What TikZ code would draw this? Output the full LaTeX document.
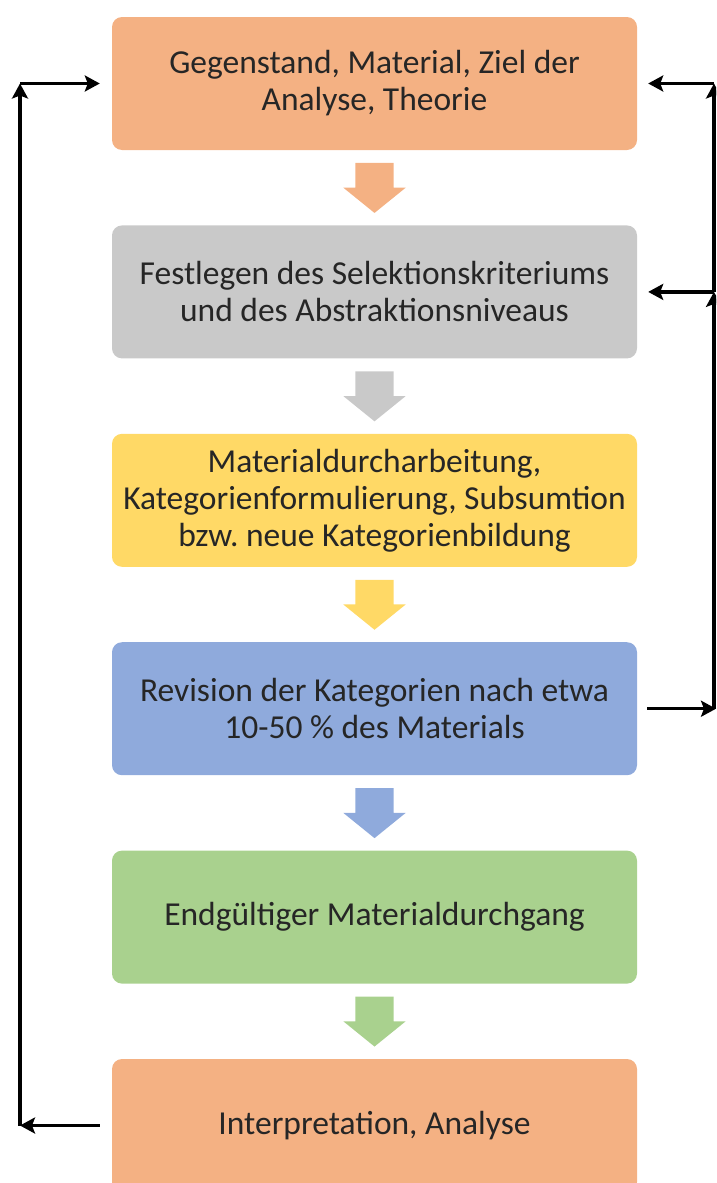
\documentclass[tikz,border=0pt]{standalone}
\usepackage{fontspec}
\setmainfont{Carlito}
\usepackage{xcolor}
\usepackage{tikz}
\usetikzlibrary{shapes}
\usetikzlibrary{arrows,arrows.meta}
\usetikzlibrary{positioning,calc}
\definecolor{orangebox}{HTML}{F4B183}
\definecolor{graybox}{HTML}{C9C9C9}
\definecolor{yellowbox}{HTML}{FFD966}
\definecolor{bluebox}{HTML}{8FAADC}
\definecolor{greenbox}{HTML}{A9D18E}
\definecolor{boxtext}{HTML}{262626}
\frenchspacing
\tikzset{
	stepbox/.style={rectangle,rounded corners=10pt,minimum width=525pt,minimum height=133pt,
		align=center,text=boxtext,font=\fontsize{33.5}{37}\selectfont},
	downarrow/.style={single arrow,shape border rotate=270,minimum height=50pt,anchor=tip,
		single arrow head extend=12pt,single arrow tip angle=102,inner xsep=19pt,inner ysep=4pt},
	backline/.style={-{Stealth[length=15pt,width=16pt,inset=3pt]},line width=3.5pt}
}

\begin{document}
\begin{tikzpicture}[x=1pt,y=-1pt]
	\clip (0,0) rectangle (716,1183);
	\node [stepbox,fill=orangebox] (b1) at (374.5,83.5) {Gegenstand, Material, Ziel der\\Analyse, Theorie};
	\node [stepbox,fill=graybox,below=75pt of b1] (b2) {Festlegen des Selektionskriteriums\\und des Abstraktionsniveaus};
	\node [stepbox,fill=yellowbox,below=75pt of b2] (b3) {Materialdurcharbeitung,\\Kategorienformulierung, Subsumtion\\bzw. neue Kategorienbildung};
	\node [stepbox,fill=bluebox,below=75pt of b3] (b4) {Revision der Kategorien nach etwa\\10-50 \% des Materials};
	\node [stepbox,fill=greenbox,below=75pt of b4] (b5) {Endgültiger Materialdurchgang};
	\node [stepbox,fill=orangebox,below=75pt of b5] (b6) {Interpretation, Analyse};
	% block arrows
	\foreach \j/\c in {2/orangebox,3/graybox,4/yellowbox,5/bluebox,6/greenbox}
		\node [downarrow,fill=\c] (a\j) at ([yshift=12pt]b\j.north) {};
	% feedback lines
	\coordinate (lx) at (20,0);
	\coordinate (rx) at (714,0);
	\coordinate (ex) at (716,0);
	\coordinate (lb) at (b6.west -| lx);
	\coordinate (lt) at (b1.west -| lx);
	\coordinate (r1) at (b1.east -| rx);
	\coordinate (r2) at (b2.east -| rx);
	\coordinate (r4) at (b4.east -| rx);
	\coordinate (re) at (b4.east -| ex);
	\draw [backline] ([xshift=-12pt]b6.west) -- (lb);
	\draw [backline] (lb) -- (lt);
	\draw [backline] (lt) -- ([xshift=-12pt]b1.west);
	\draw [backline] ([xshift=10pt]b4.east) -- (re);
	\draw [backline] (r4) -- (r2);
	\draw [backline] (r2) -- (r1);
	\draw [backline] (r1) -- ([xshift=11pt]b1.east);
	\draw [backline] (r2) -- ([xshift=11pt]b2.east);
\end{tikzpicture}
\end{document}
